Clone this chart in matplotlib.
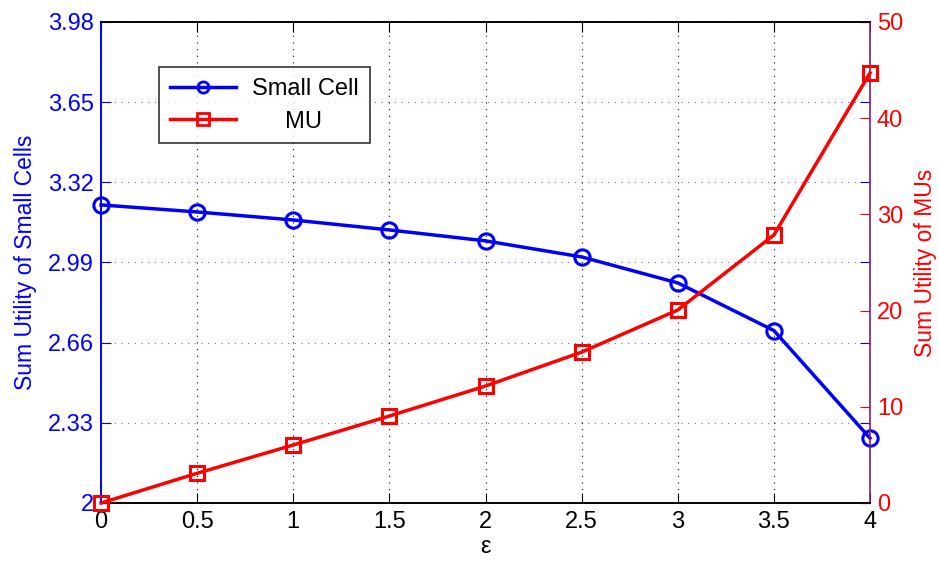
import matplotlib
matplotlib.use('Agg')
import matplotlib.pyplot as plt
from matplotlib.ticker import FixedLocator

plt.rcParams['font.family'] = ['Liberation Sans', 'DejaVu Sans']

# Data
eps = [0, 0.5, 1, 1.5, 2, 2.5, 3, 3.5, 4]
small_cell = [3.227, 3.198, 3.165, 3.124, 3.079, 3.013, 2.906, 2.710, 2.267]
mu = [0, 3.09, 6.03, 9.04, 12.16, 15.68, 20.06, 27.86, 44.7]

left_ticks = [2, 2.33, 2.66, 2.99, 3.32, 3.65, 3.98]
right_ticks = [0, 10, 20, 30, 40, 50]
x_ticks = [0, 0.5, 1, 1.5, 2, 2.5, 3, 3.5, 4]

fig = plt.figure(figsize=(9.39, 5.61), dpi=100)
ax1 = fig.add_axes([0.1076, 0.1034, 0.8189, 0.8574])
ax2 = ax1.twinx()

# Small cell utility on the left axis
l1, = ax1.plot(eps, small_cell, color='#0000FF', lw=2.5, marker='o', ms=11,
               mfc='none', mew=2.2, label='Small Cell', clip_on=False, zorder=3)
ax1.set_xlim(0, 4)
ax1.set_ylim(2, 3.98)
ax1.yaxis.set_major_locator(FixedLocator(left_ticks))
ax1.set_yticklabels(['2', '2.33', '2.66', '2.99', '3.32', '3.65', '3.98'])
ax1.set_xticks(x_ticks)
ax1.set_xticklabels(['0', '0.5', '1', '1.5', '2', '2.5', '3', '3.5', '4'])

# MU utility on the right axis
l2, = ax2.plot(eps, mu, color='#FF0000', lw=2.5, marker='s', ms=10,
               mfc='none', mew=2.2, label='MU', clip_on=False, zorder=3)
ax2.set_ylim(0, 50)
ax2.set_yticks(right_ticks)

# Grid: blue dotted horizontals, black dotted verticals
ax1.yaxis.grid(True, color='#0000FF', linestyle=(0, (1, 5)), lw=0.8, alpha=0.6)
ax1.xaxis.grid(True, color='black', linestyle=(0, (1, 5)), lw=0.8)

ax1.tick_params(axis='y', colors='#0000FF', direction='in', length=7,
                labelsize=17, right=True, pad=5)
ax1.tick_params(axis='x', colors='black', direction='in', length=7,
                labelsize=17, top=True, pad=6)
ax2.tick_params(axis='y', colors='#FF0000', direction='in', length=7,
                labelsize=17, pad=5)

ax1.spines['left'].set_color('#0000FF')
ax2.spines['left'].set_color('#0000FF')
ax2.spines['right'].set_color('#8B1A7A')
ax1.spines['right'].set_visible(False)
for sp in ax2.spines.values():
    sp.set_linewidth(1.2)
for sp in ax1.spines.values():
    sp.set_linewidth(1.2)

ax1.set_ylabel('Sum Utility of Small Cells', color='#0000FF', fontsize=16.5, labelpad=8)
ax2.set_ylabel('Sum Utility of MUs', color='#FF0000', fontsize=16.5, labelpad=8)
ax1.set_xlabel('ε', fontsize=17, labelpad=2)

leg = ax2.legend([l1, l2], ['Small Cell', '     MU'], loc='upper left',
                 bbox_to_anchor=(0.06, 0.93), fontsize=17, frameon=True,
                 fancybox=False, edgecolor='black', handlelength=2.8,
                 borderpad=0.45, labelspacing=0.45, handletextpad=0.7)
leg.get_frame().set_linewidth(1.2)
for h in leg.legend_handles:
    h.set_markersize(8)
    h.set_markeredgewidth(2)

fig.savefig('out.png', dpi=100)
